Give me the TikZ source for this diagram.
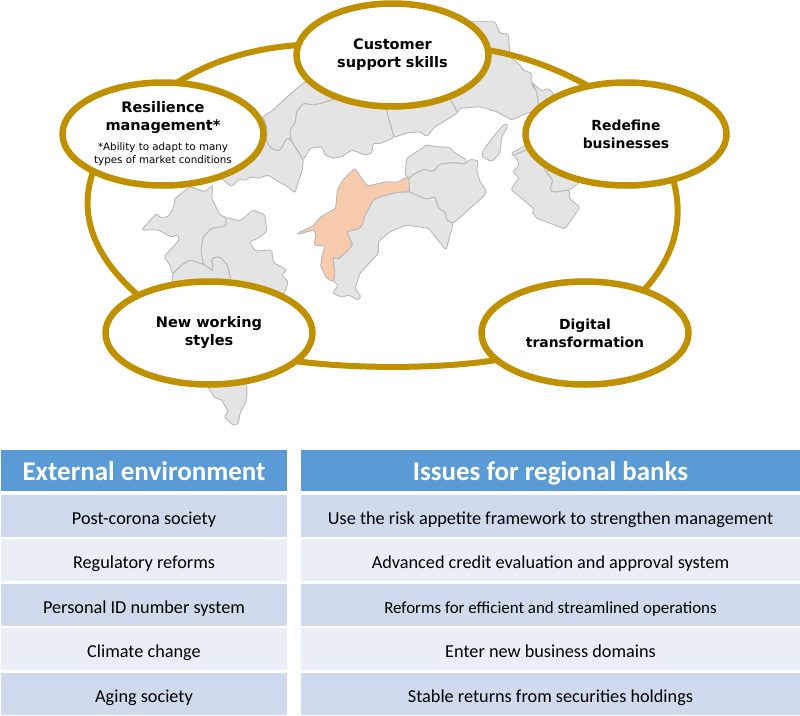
\documentclass[tikz,border=0pt]{standalone}
\usepackage{fontspec}
\usetikzlibrary{shapes.geometric}
\newfontfamily\ovalfont{DejaVu Sans}
\newfontfamily\tablefont{Carlito}
\newcommand{\notefont}{\mdseries\fontsize{10.3}{13}\selectfont}
\definecolor{ringgold}{HTML}{BF9000}
\definecolor{mapgrey}{HTML}{E4E4E4}
\definecolor{mapedge}{HTML}{B9B9B9}
\definecolor{mapmark}{HTML}{F8CBAD}
\definecolor{headblue}{HTML}{5B9BD5}
\definecolor{rowdark}{HTML}{CFDBEC}
\definecolor{rowlight}{HTML}{E9EEF7}
\tikzset{
  zone/.style={fill=mapgrey, draw=mapedge, line width=0.9pt, line join=round, rounded corners=1.5pt},
  markzone/.style={zone, fill=mapmark},
  oval/.style={ellipse, draw=ringgold, fill=white, line width=6.5pt, minimum width=201pt, minimum height=103pt, inner sep=0pt, outer sep=0pt, align=center, font=\ovalfont\bfseries\fontsize{14.5}{18}\selectfont},
  ovalsmall/.style={oval, font=\ovalfont\bfseries\fontsize{13.9}{18}\selectfont},
  ring/.style={draw=ringgold, line width=6pt},
  headcell/.style={fill=headblue, text=white, inner sep=0pt, minimum height=41pt, text height=20pt, text depth=0pt, font=\tablefont\bfseries\fontsize{27}{30}\selectfont},
  rowcell/.style={inner sep=0pt, minimum height=42pt, text height=17pt, text depth=0pt, font=\tablefont\fontsize{18.25}{22}\selectfont},
  darkrow/.style={rowcell, fill=rowdark},
  lightrow/.style={rowcell, fill=rowlight}
}
\begin{document}
\begin{tikzpicture}[x=1pt, y=-1pt]
  \useasboundingbox (0,0) rectangle (800,715);

  % Honshu
  \draw[zone] (305,81.7) -- (295,90) -- (281.7,101.7) -- (273.3,110) -- (262.7,116.7) -- (266.7,126.7) -- (266.7,141.7) -- (271.7,149.3) -- (280,150.7) -- (286.7,138.3) -- (291,140) -- (290,130) -- (295,123.3) -- (296.7,111.7) -- (303.3,103.3) -- (313.3,105) -- (321.7,103.3) -- (333.3,99.3) -- (340,85) -- cycle;
  \draw[zone] (215,170) -- (262.7,116.7) -- (266.7,126.7) -- (266.7,141.7) -- (271.7,149.3) -- (280,150.7) -- (286.7,138.3) -- (291,140) -- (298.3,151.7) -- (303.3,160) -- (302.7,168.3) -- (300,176.7) -- (295,193) -- (286.7,186) -- (276.7,180.7) -- (268.3,175) -- (258.3,178.3) -- (251.7,176.7) -- (245,180.7) -- (240,178.3) -- (231.7,186.7) -- (225,181.7) -- cycle;
  \draw[zone] (333.3,99.3) -- (321.7,103.3) -- (313.3,105) -- (303.3,103.3) -- (296.7,111.7) -- (295,123.3) -- (290,130) -- (291,140) -- (298.3,151.7) -- (303.3,160) -- (310,148.3) -- (321.7,146.7) -- (325,155) -- (333.3,158.3) -- (341.7,156.7) -- (351.7,150) -- (365,155) -- (371.7,153.3) -- (373.3,143.3) -- (381.7,143.3) -- (394.3,137.3) -- (390,123.3) -- (386.7,110) -- (386.7,95) -- cycle;
  \draw[zone] (386.7,95) -- (386.7,110) -- (390,123.3) -- (394.3,137.3) -- (406.7,133) -- (420,131.7) -- (426.7,136.7) -- (435,126.7) -- (443.3,121.7) -- (457.3,113.3) -- (456,109) -- (451.7,101.7) -- (445,90) -- cycle;
  \draw[zone] (440,20) -- (471.7,21.7) -- (495,21.7) -- (500,33.3) -- (508.3,34) -- (509.3,46.7) -- (510,56.7) -- (520,65) -- (523.3,70) -- (531.7,73.3) -- (531.7,85) -- (536.7,91.7) -- (538.3,103.3) -- (540,110) -- (526.7,113.3) -- (511.7,120) -- (496.7,111.7) -- (480,106.7) -- (460,108.3) -- (457.3,113.3) -- (456,109) -- (451.7,101.7) -- (445,90) -- cycle;
  \draw[zone] (531.7,81.7) -- (538,88) -- (542,91) -- (548.3,88.3) -- (553.3,93.3) -- (556,100) -- (560,115) -- (540,110) -- (538.3,103.3) -- (536.7,91.7) -- cycle;
  % Kii
  \draw[zone] (546,171.7) -- (552.7,180) -- (550,190) -- (553.3,192.3) -- (569.3,190) -- (578.3,183.3) -- (585,175) -- (560,160) -- cycle;
  \draw[zone] (511,153.3) -- (530,143) -- (546,171.7) -- (552.7,180) -- (550,190) -- (553.3,192.3) -- (569.3,190) -- (569.3,198.3) -- (580,207.3) -- (565,229) -- (536.7,218.3) -- (531.7,211.7) -- (535,210) -- (520,196.7) -- (511,190) -- (519,177.3) -- (512.7,171.7) -- (519.3,165) -- (516.7,158.3) -- cycle;
  \draw[mapedge, line width=0.9pt] (513,155.5) -- (528,149);
  % Awaji
  \draw[zone] (506.7,123.3) -- (507.7,126.7) -- (501.7,136.7) -- (500,153.3) -- (491.7,161.7) -- (481.7,156.7) -- (483.3,150) -- (493.3,136.7) -- (503.3,125) -- cycle;

  % Shikoku
  \draw[zone] (409.3,178.3) -- (405,175) -- (406.7,158.3) -- (426.7,145) -- (436.7,146.7) -- (450,147.3) -- (453.3,151.7) -- (466.7,160) -- (465,164) -- (453.3,162.7) -- (440,164) -- (433.3,171.7) -- (425,169.3) -- (415,173.3) -- cycle;
  \draw[zone] (409,191.7) -- (420,196.7) -- (426.7,199.3) -- (435,196.7) -- (438.3,208.3) -- (445,211.7) -- (446.7,220) -- (453.3,223.3) -- (485,195) -- (486,190) -- (480,181.7) -- (476.7,170) -- (478.3,160.7) -- (470,159.3) -- (465,164) -- (453.3,162.7) -- (440,164) -- (433.3,171.7) -- (425,169.3) -- (415,173.3) -- (409.3,178.3) -- cycle;
  \draw[zone] (409,191.7) -- (420,196.7) -- (426.7,199.3) -- (435,196.7) -- (438.3,208.3) -- (445,211.7) -- (446.7,220) -- (453.3,223.3) -- (446,250) -- (428.3,228.3) -- (406.7,225) -- (390,231.7) -- (378.3,241.7) -- (378.3,253.3) -- (360,273.3) -- (355,288.3) -- (361,296.7) -- (358.3,300) -- (348.3,295) -- (341.7,297.3) -- (332.7,293.3) -- (338.3,285) -- (333.3,281.7) -- (335,273.3) -- (332.7,256.7) -- (338.3,259.3) -- (352.7,245) -- (346.7,231.7) -- (360,228.3) -- (362.7,223.3) -- (365,215) -- (373.3,200) -- (380,196.7) -- (396.7,192.3) -- cycle;
  \draw[markzone] (355,168.3) -- (361.7,178.3) -- (367.3,186) -- (386.7,181.7) -- (398.3,182.3) -- (405,177.3) -- (409.3,178.3) -- (409,191.7) -- (396.7,192.3) -- (380,196.7) -- (373.3,200) -- (365,215) -- (362.7,223.3) -- (360,228.3) -- (346.7,231.7) -- (352.7,245) -- (338.3,259.3) -- (332.7,256.7) -- (335,273.3) -- (333.3,281.7) -- (326.7,278.3) -- (320.7,266.7) -- (321.7,256.7) -- (325,246) -- (314,245) -- (316,235) -- (314,230) -- (297.3,234.3) -- (298.3,232.7) -- (313.3,226) -- (320,217.3) -- (335.7,208.3) -- (337.3,190) -- (343.3,179.3) -- cycle;

  % Kyushu
  \draw[zone] (142.7,228.3) -- (156.7,213.3) -- (160,217.7) -- (168.3,216.7) -- (173.3,208.3) -- (175,198.3) -- (190,186.7) -- (205,191.7) -- (212.7,185) -- (211.7,198.3) -- (220,215) -- (226,217.3) -- (226,226) -- (211.7,228.3) -- (203.3,236.7) -- (201,250) -- (203.3,264.3) -- (190,260) -- (181.7,265) -- (172.3,274.3) -- (170,265) -- (164,256.7) -- (179.3,240) -- (177.7,234.3) -- (171.7,237.3) -- (158.3,230) -- (142.7,230) -- cycle;
  \draw[zone] (226,217.3) -- (240,221) -- (253.3,210) -- (265,215) -- (266.7,231.7) -- (258.3,238.3) -- (249.3,241.7) -- (255,251) -- (271.7,250) -- (273.3,262.3) -- (286.7,270) -- (281.7,275) -- (288.3,281.7) -- (285,291.7) -- (275,310) -- (232,300) -- (230.7,279) -- (227.3,265) -- (220,256.7) -- (211.7,258.3) -- (213.3,271) -- (203.3,264.3) -- (201,250) -- (203.3,236.7) -- (211.7,228.3) -- (226,226) -- cycle;
  \draw[zone] (172.3,274.3) -- (181.7,265) -- (190,260) -- (203.3,264.3) -- (213.3,271) -- (211.7,258.3) -- (220,256.7) -- (227.3,265) -- (230.7,279) -- (232,300) -- (172.3,300) -- cycle;
  \draw[zone] (208,370) -- (208,387) -- (215,398) -- (221.7,400) -- (228.3,411.7) -- (224,416.7) -- (232.7,425) -- (238.3,424) -- (240,413.3) -- (246.7,400) -- (247.3,370) -- cycle;

  % ovals
  \node[oval] (resilience) at (163,134) {Resilience\\management*\\[2pt]\notefont *Ability to adapt to many\\[-5pt]\notefont types of market conditions};
  \node[oval, minimum width=192pt] (customer) at (392.5,55) {Customer\\support skills};
  \node[ovalsmall] (redefine) at (626,134) {Redefine\\businesses};
  \node[ovalsmall, minimum width=207pt] (digital) at (585,333) {Digital\\transformation};
  \node[oval, minimum width=207pt] (working) at (209,333) {New working\\styles};

  % ring between the ovals
  \draw[ring] (resilience.75) .. controls (212,60) and (255,48) .. (customer.174);
  \draw[ring] (customer.3) .. controls (522,56) and (556,68) .. (redefine.128);
  \draw[ring] (redefine.-44) .. controls (686,225) and (670,262) .. (digital.36);
  \draw[ring] (digital.197) .. controls (440,369) and (355,369) .. (working.-18);
  \draw[ring] (working.152) .. controls (100,262) and (76,220) .. (resilience.208);

  % left table
  \node[headcell, minimum width=286pt] (headleft) at (144,470) {External environment};
  \node[darkrow, minimum width=286pt] (leftone) at (144,516.2) {Post-corona society};
  \node[lightrow, minimum width=286pt] (lefttwo) at (144,560.2) {Regulatory reforms};
  \node[darkrow, minimum width=286pt] (leftthree) at (144,604.5) {Personal ID number system};
  \node[lightrow, minimum width=286pt] (leftfour) at (144,649) {Climate change};
  \node[darkrow, minimum width=286pt] (leftfive) at (144,693.7) {Aging society};

  % right table
  \node[headcell, minimum width=499pt] (headright) at (550.5,470) {Issues for regional banks};
  \node[darkrow, minimum width=499pt] (rightone) at (550.5,516.2) {Use the risk appetite framework to strengthen management};
  \node[lightrow, minimum width=499pt] (righttwo) at (550.5,560.2) {Advanced credit evaluation and approval system};
  \node[darkrow, minimum width=499pt, font=\tablefont\fontsize{16.9}{20}\selectfont] (rightthree) at (550.5,604.5) {Reforms for efficient and streamlined operations};
  \node[lightrow, minimum width=499pt] (rightfour) at (550.5,649) {Enter new business domains};
  \node[darkrow, minimum width=499pt] (rightfive) at (550.5,693.7) {Stable returns from securities holdings};
\end{tikzpicture}
\end{document}
